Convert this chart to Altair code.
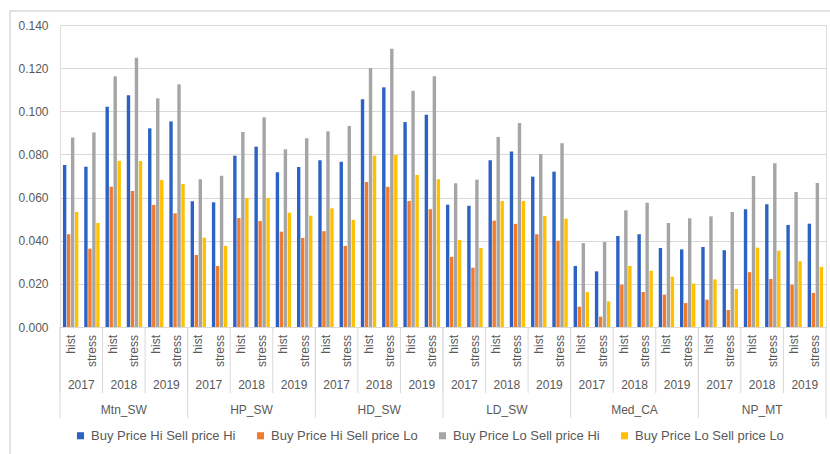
import altair as alt
import pandas as pd

regions = ["Mtn_SW", "HP_SW", "HD_SW", "LD_SW", "Med_CA", "NP_MT"]
years = ["2017", "2018", "2019"]
scenarios = ["hist", "stress"]
series_names = [
    "Buy Price Hi Sell price Hi",
    "Buy Price Hi Sell price Lo",
    "Buy Price Lo Sell price Hi",
    "Buy Price Lo Sell price Lo",
]
colors = ["#2C62C4", "#F07B2C", "#A5A5A5", "#FFC000"]

hi_hi = [
    0.0751, 0.0743, 0.1021, 0.1074, 0.0921, 0.0953,
    0.0583, 0.0578, 0.0794, 0.0836, 0.0717, 0.0742,
    0.0773, 0.0766, 0.1056, 0.1111, 0.0950, 0.0984,
    0.0567, 0.0562, 0.0773, 0.0813, 0.0697, 0.0720,
    0.0283, 0.0258, 0.0422, 0.0430, 0.0366, 0.0360,
    0.0371, 0.0356, 0.0546, 0.0569, 0.0473, 0.0479,
]
hi_lo = [
    0.0430, 0.0363, 0.0650, 0.0630, 0.0566, 0.0527,
    0.0334, 0.0283, 0.0505, 0.0491, 0.0442, 0.0413,
    0.0444, 0.0376, 0.0672, 0.0650, 0.0584, 0.0546,
    0.0325, 0.0275, 0.0493, 0.0478, 0.0430, 0.0400,
    0.0094, 0.0048, 0.0196, 0.0162, 0.0150, 0.0111,
    0.0127, 0.0079, 0.0254, 0.0223, 0.0196, 0.0158,
]
lo_hi = [
    0.0879, 0.0902, 0.1162, 0.1248, 0.1060, 0.1125,
    0.0685, 0.0701, 0.0904, 0.0972, 0.0824, 0.0875,
    0.0907, 0.0932, 0.1201, 0.1290, 0.1095, 0.1162,
    0.0666, 0.0683, 0.0881, 0.0946, 0.0802, 0.0852,
    0.0389, 0.0394, 0.0541, 0.0576, 0.0482, 0.0504,
    0.0513, 0.0533, 0.0700, 0.0759, 0.0626, 0.0668,
]
lo_lo = [
    0.0533, 0.0482, 0.0770, 0.0770, 0.0681, 0.0663,
    0.0414, 0.0376, 0.0598, 0.0598, 0.0530, 0.0516,
    0.0550, 0.0497, 0.0794, 0.0797, 0.0705, 0.0685,
    0.0403, 0.0366, 0.0584, 0.0584, 0.0515, 0.0502,
    0.0162, 0.0119, 0.0283, 0.0261, 0.0233, 0.0201,
    0.0221, 0.0176, 0.0368, 0.0354, 0.0305, 0.0278,
]
series_values = [hi_hi, hi_lo, lo_hi, lo_lo]

# category table
cat_rows = []
for r in regions:
    for y in years:
        for s in scenarios:
            cat_rows.append({"cat": f"{r}|{y}|{s}", "region": r, "year": y, "scen": s})
cats = pd.DataFrame(cat_rows)
cat_order = list(cats["cat"])

rows = []
for name, vals in zip(series_names, series_values):
    for i, v in enumerate(vals):
        rows.append({"cat": cat_order[i], "series": name, "value": v})
df = pd.DataFrame(rows)

W, H = 766, 302
FONT = "Liberation Sans"
TXT = "#595959"
LINE = "#d9d9d9"

xscale = alt.Scale(domain=cat_order, paddingInner=0, paddingOuter=0)

bars = alt.Chart(df).mark_bar().encode(
    x=alt.X("cat:N", scale=xscale, axis=None),
    xOffset=alt.XOffset("series:N", sort=series_names,
                        scale=alt.Scale(paddingInner=0.15, paddingOuter=0.735)),
    y=alt.Y("value:Q",
            scale=alt.Scale(domain=[0, 0.14], nice=False),
            axis=alt.Axis(values=[0, 0.02, 0.04, 0.06, 0.08, 0.10, 0.12, 0.14],
                          format=".3f", title=None, domain=False, ticks=False,
                          gridColor=LINE, labelColor=TXT, labelFontSize=12,
                          labelFont=FONT, labelPadding=12)),
    color=alt.Color("series:N", sort=series_names,
                    scale=alt.Scale(domain=series_names, range=colors),
                    legend=alt.Legend(orient="none", legendX=14, legendY=404,
                                      direction="horizontal", title=None,
                                      symbolType="square", symbolSize=50,
                                      symbolStrokeWidth=0,
                                      labelFontSize=13, labelFont=FONT,
                                      labelColor=TXT, columnPadding=18,
                                      labelOffset=4, labelLimit=400)),
)

scen_text = alt.Chart(cats).mark_text(
    angle=270, align="right", baseline="middle", fontSize=12, font=FONT, color=TXT
).encode(
    x=alt.X("cat:N", scale=xscale, axis=None),
    y=alt.value(H + 8),
    text="scen:N",
)

stress_cats = cats[cats["scen"] == "stress"]
year_text = alt.Chart(stress_cats).mark_text(
    align="center", baseline="middle", fontSize=12, font=FONT, color=TXT
).encode(
    x=alt.X("cat:N", scale=xscale, axis=None, bandPosition=0),
    y=alt.value(H + 58),
    text="year:N",
)

region_mid = cats[(cats["year"] == "2018") & (cats["scen"] == "stress")]
region_text = alt.Chart(region_mid).mark_text(
    align="center", baseline="middle", fontSize=12, font=FONT, color=TXT
).encode(
    x=alt.X("cat:N", scale=xscale, axis=None, bandPosition=0),
    y=alt.value(H + 83),
    text="region:N",
)

hist_cats = cats[cats["scen"] == "hist"]
year_rules = alt.Chart(hist_cats).mark_rule(color=LINE, strokeWidth=1).encode(
    x=alt.X("cat:N", scale=xscale, axis=None, bandPosition=0),
    y=alt.value(H),
    y2=alt.value(H + 66),
)

region_start = cats[(cats["year"] == "2017") & (cats["scen"] == "hist")]
region_rules = alt.Chart(region_start).mark_rule(color=LINE, strokeWidth=1).encode(
    x=alt.X("cat:N", scale=xscale, axis=None, bandPosition=0),
    y=alt.value(H),
    y2=alt.value(H + 91),
)

end_rule = alt.Chart(cats.tail(1)).mark_rule(color=LINE, strokeWidth=1).encode(
    x=alt.X("cat:N", scale=xscale, axis=None, bandPosition=1),
    y=alt.value(H),
    y2=alt.value(H + 91),
)

border = alt.Chart(pd.DataFrame({"k": [0]})).mark_rect(
    fillOpacity=0, stroke=LINE, strokeWidth=1.5
).encode(
    x=alt.value(-50), x2=alt.value(800), y=alt.value(-14), y2=alt.value(470)
)

chart = alt.layer(
    border, year_rules, region_rules, end_rule, bars, scen_text, year_text, region_text
).properties(
    width=W, height=H,
    autosize=alt.AutoSizeParams(type="none"),
    padding={"left": 60, "top": 25, "right": 4, "bottom": 127},
).configure_view(stroke=None).configure(background="white")

chart.save("out.html", embed_options={"renderer": "svg", "actions": False})
